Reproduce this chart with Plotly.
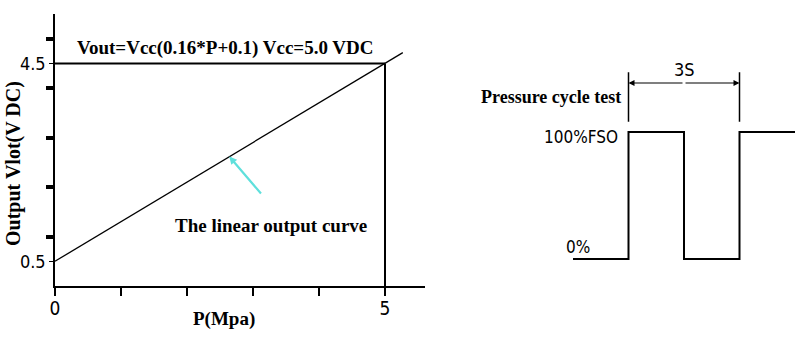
import plotly.graph_objects as go

# ---- data: left chart (linear output) ----
p_curve = [0, 5, 5.27]
v_curve = [0.5, 4.5, 4.72]
p_ref_h = [0, 5]
v_ref_h = [4.5, 4.5]
p_ref_v = [5, 5]
v_ref_v = [0, 4.5]
x_tickvals = [0, 1, 2, 3, 4, 5]
x_ticktext = ["0", "", "", "", "", "5"]
y_tickvals = [0.5, 4.5]
y_ticktext = ["0.5", "4.5"]
y_minor_vals = [1, 2, 3, 4, 5]

# ---- data: right chart (pressure cycle) ----
cycle_t = [0, 1.5, 1.5, 3, 3, 4.5, 4.5, 6]
cycle_level = [0, 0, 100, 100, 0, 0, 100, 100]
ext_t = [1.5, 4.5]
ext_low, ext_high = 108, 147
dim_level = 138.6

W, H = 810, 343
def px(x):
    return x / W
def py(y):
    return 1 - y / H

SERIF = "Liberation Serif, Times New Roman, serif"
NARROW = "DejaVu Sans Condensed, Liberation Sans Narrow, Arial Narrow, sans-serif"

fig = go.Figure()

fig.add_trace(go.Scatter(x=p_curve, y=v_curve, mode="lines",
                         line=dict(color="black", width=1.3),
                         xaxis="x", yaxis="y", cliponaxis=False, hoverinfo="skip"))
fig.add_trace(go.Scatter(x=p_ref_h, y=v_ref_h, mode="lines",
                         line=dict(color="black", width=2),
                         xaxis="x", yaxis="y", hoverinfo="skip"))
fig.add_trace(go.Scatter(x=p_ref_v, y=v_ref_v, mode="lines",
                         line=dict(color="black", width=2),
                         xaxis="x", yaxis="y", hoverinfo="skip"))

fig.add_trace(go.Scatter(x=cycle_t, y=cycle_level, mode="lines",
                         line=dict(color="black", width=2),
                         xaxis="x2", yaxis="y2", hoverinfo="skip"))
for t in ext_t:
    fig.add_trace(go.Scatter(x=[t, t], y=[ext_low, ext_high], mode="lines",
                             line=dict(color="black", width=1.5),
                             xaxis="x2", yaxis="y2", hoverinfo="skip"))

annotations = [
    dict(x=2.59, y=4.81, xref="x", yref="y", text="<b>Vout=Vcc(0.16*P+0.1) Vcc=5.0 VDC</b>",
         showarrow=False, font=dict(family=SERIF, size=19, color="black")),
    dict(x=3.27, y=1.23, xref="x", yref="y", text="<b>The linear output curve</b>",
         showarrow=False, font=dict(family=SERIF, size=19, color="black")),
    dict(x=2.64, y=2.62, xref="x", yref="y", ax=3.14, ay=1.84, axref="x", ayref="y",
         text="", showarrow=True, arrowhead=2, arrowsize=0.7, arrowwidth=2.2,
         arrowcolor="#5fe0dc", standoff=0),
    dict(x=px(14), y=py(164), xref="paper", yref="paper", xanchor="center", yanchor="middle",
         text="<b>Output Vlot(V DC)</b>",
         textangle=-90, showarrow=False, font=dict(family=SERIF, size=20, color="black")),
    dict(x=px(224), y=py(319), xref="paper", yref="paper", xanchor="center", yanchor="middle",
         text="<b>P(Mpa)</b>",
         showarrow=False, font=dict(family=SERIF, size=19, color="black")),
    # right chart labels
    dict(x=3.0, y=149, xref="x2", yref="y2", text="3S", showarrow=False,
         font=dict(family=NARROW, size=18, color="black")),
    dict(x=1.5, y=dim_level, xref="x2", yref="y2", ax=3.0, ay=dim_level,
         axref="x2", ayref="y2", text="", showarrow=True, arrowhead=2,
         arrowsize=1, arrowwidth=1.2, arrowcolor="black", standoff=0),
    dict(x=4.5, y=dim_level, xref="x2", yref="y2", ax=3.0, ay=dim_level,
         axref="x2", ayref="y2", text="", showarrow=True, arrowhead=2,
         arrowsize=1, arrowwidth=1.2, arrowcolor="black", standoff=0),
    dict(x=1.35, y=127.5, xref="x2", yref="y2", xanchor="right",
         text="<b>Pressure cycle test</b>", showarrow=False,
         font=dict(family=SERIF, size=18, color="black")),
    dict(x=1.27, y=96, xref="x2", yref="y2", xanchor="right", text="100%FSO",
         showarrow=False, font=dict(family=NARROW, size=17, color="black")),
    dict(x=0.52, y=9.5, xref="x2", yref="y2", xanchor="right", text="0%",
         showarrow=False, font=dict(family=NARROW, size=17, color="black")),
]

fig.update_layout(
    width=W, height=H,
    margin=dict(l=0, r=0, t=0, b=0, autoexpand=False),
    paper_bgcolor="white", plot_bgcolor="white",
    showlegend=False,
    xaxis=dict(domain=[px(55), px(425)], range=[0, 5.606], anchor="y", automargin=False,
               showgrid=False, zeroline=False, showline=True, linecolor="black", linewidth=2,
               tickmode="array", tickvals=x_tickvals, ticktext=x_ticktext,
               ticks="outside", ticklen=8, tickwidth=1.5, tickcolor="black",
               ticklabelstandoff=-4,
               tickfont=dict(family=NARROW, size=19, color="black")),
    yaxis=dict(domain=[py(286), py(14)], range=[0, 5.5], anchor="x", automargin=False,
               showgrid=False, zeroline=False, showline=True, linecolor="black", linewidth=1.5,
               tickmode="array", tickvals=y_tickvals, ticktext=y_ticktext,
               ticks="outside", ticklen=4, tickwidth=1, tickcolor="black",
               tickfont=dict(family=NARROW, size=18, color="black"),
               minor=dict(tickmode="array", tickvals=y_minor_vals, ticks="outside",
                          ticklen=7, tickwidth=4, tickcolor="black", showgrid=False)),
    xaxis2=dict(domain=[px(573), px(795)], range=[0, 6], anchor="y2", automargin=False,
                visible=False, showgrid=False, zeroline=False),
    yaxis2=dict(domain=[py(271.7), py(55.8)], range=[-10, 160], anchor="x2", automargin=False,
                visible=False, showgrid=False, zeroline=False),
    annotations=annotations,
)

fig.write_html("out.html")
